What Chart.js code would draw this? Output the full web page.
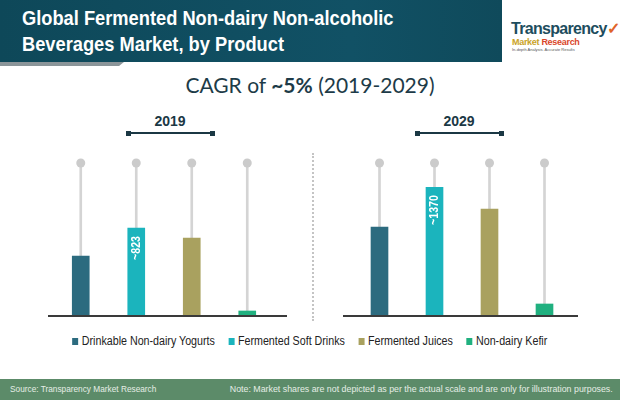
<!DOCTYPE html>
<html><head><meta charset="utf-8">
<script src="https://cdn.jsdelivr.net/npm/chart.js@4"></script>
<style>
html,body{margin:0;padding:0;}
body{width:620px;height:400px;position:relative;overflow:hidden;background:#fff;font-family:"Liberation Sans",sans-serif;}
.abs{position:absolute;}
#banner{left:0;top:0;width:502px;height:62px;background:linear-gradient(90deg,#0e4859 0%,#115165 70%,#0f4a5b 100%);}
#banner .t{position:absolute;left:22px;color:#fff;font-weight:bold;font-size:21px;white-space:nowrap;transform:scaleX(0.87);transform-origin:0 0;}
#stripe{left:0;top:62px;width:124px;height:4px;background:#8b9599;clip-path:polygon(0 0,100% 0,96% 100%,0 100%);}
#logo1{left:511px;top:19px;font-weight:bold;font-size:16px;color:#1d4d5e;letter-spacing:-0.7px;white-space:nowrap;}
#logo2{left:512px;top:37px;font-weight:bold;font-size:9px;letter-spacing:-0.3px;white-space:nowrap;}
#logo3{left:512px;top:47px;font-size:4px;color:#555;white-space:nowrap;}
#cagr{left:0;width:620px;top:72px;text-align:center;font-family:Lato,sans-serif;font-size:21px;color:#1d3b48;}
.yr{font-weight:bold;font-size:14px;color:#1b3844;text-align:center;width:100px;}
.yl{height:2px;background:#1b3844;}
.sq{width:5px;height:5px;background:#1b3844;}
#div{left:312px;top:153px;width:0;height:168px;border-left:2px dotted #c4c4c4;}
.base{height:1.5px;background:#3a3a3a;top:315px;}
#legend{left:0;width:620px;top:334px;font-size:12.5px;color:#222;text-align:center;white-space:nowrap;transform:scaleX(0.855);transform-origin:309px 0;}
#legend span.i{display:inline-block;margin:0 8px;}
#legend span.b{display:inline-block;width:7px;height:7px;margin-right:4px;vertical-align:0px;}
#footer{left:0;top:379px;width:620px;height:21px;background:#5c8b69;color:#e6eee6;font-size:9px;}
#footer .s{position:absolute;left:10px;top:5px;transform:scaleX(0.92);transform-origin:0 0;}
#footer .n{position:absolute;right:7px;top:5px;transform:scaleX(0.98);transform-origin:100% 0;}
</style></head>
<body>
<div id="banner" class="abs"><div class="t" style="top:6px">Global Fermented Non-dairy Non-alcoholic</div><div class="t" style="top:32px">Beverages Market, by Product</div></div>
<div id="stripe" class="abs"></div>
<div id="logo1" class="abs">Transparency<span style="color:#e0632a">✓</span></div>
<div id="logo2" class="abs"><span style="color:#c9a227">Market </span><span style="color:#d9462a">Research</span></div>
<div id="logo3" class="abs">In-depth Analysis. Accurate Results</div>
<div id="cagr" class="abs">CAGR of <b>~5%</b> (2019-2029)</div>

<div class="abs yr" style="left:120px;top:113px">2019</div>
<div class="abs yl" style="left:128px;top:132px;width:85px"></div>
<div class="abs sq" style="left:126px;top:130.5px"></div>
<div class="abs sq" style="left:210px;top:130.5px"></div>

<div class="abs yr" style="left:409px;top:113px">2029</div>
<div class="abs yl" style="left:417px;top:132px;width:85px"></div>
<div class="abs sq" style="left:415px;top:130.5px"></div>
<div class="abs sq" style="left:499px;top:130.5px"></div>

<div id="div" class="abs"></div>
<div class="abs base" style="left:48px;width:239px"></div>
<div class="abs base" style="left:343px;width:235px"></div>

<div class="abs" style="left:53px;top:155px;width:222px;height:160px"><canvas id="c1"></canvas></div>
<div class="abs" style="left:352px;top:155px;width:220px;height:160px"><canvas id="c2"></canvas></div>

<div id="legend" class="abs"></div>
<div id="footer" class="abs"><span class="s">Source: Transparency Market Research</span><span class="n">Note: Market shares are not depicted as per the actual scale and are only for illustration purposes.</span></div>

<script>
// ---- data ----
const categories = ['Drinkable Non-dairy Yogurts', 'Fermented Soft Drinks', 'Fermented Juices', 'Non-dairy Kefir'];
const values2019 = [558, 823, 728, 38];
const values2029 = [944, 1370, 1137, 118];
const labels2019 = [null, '~823', null, null];
const labels2029 = [null, '~1370', null, null];
const axisMax2019 = 1440;
const axisMax2029 = 1630;
const colors = ['#2c6b7f', '#1bb4bd', '#a9a15f', '#20b07f'];

// legend
const lg = document.getElementById('legend');
categories.forEach((c, i) => {
  const s = document.createElement('span'); s.className = 'i';
  s.innerHTML = '<span class="b" style="background:' + colors[i] + '"></span>' + c;
  lg.appendChild(s);
});

const labelPlugin = {
  id: 'vlabels',
  afterDatasetsDraw(chart, args, opts) {
    const meta = chart.getDatasetMeta(1);
    const ctx = chart.ctx;
    opts.labels.forEach((t, i) => {
      if (!t) return;
      const el = meta.data[i];
      ctx.save();
      ctx.translate(el.x + 0.5, el.y + 8);
      ctx.rotate(-Math.PI / 2);
      ctx.scale(0.88, 1);
      ctx.fillStyle = '#ffffff';
      ctx.font = 'bold 12px "Liberation Sans", sans-serif';
      ctx.textAlign = 'right';
      ctx.textBaseline = 'middle';
      ctx.fillText(t, 0, 0);
      ctx.restore();
    });
  }
};

function make(id, vals, labs, max) {
  new Chart(document.getElementById(id), {
    data: {
      labels: categories,
      datasets: [
        { type: 'bar', data: vals.map(v => [v, max]), backgroundColor: '#d4d4d4', barThickness: 2, grouped: false, order: 3 },
        { type: 'bar', data: vals, backgroundColor: colors, barThickness: 17, grouped: false, order: 2 },
        { type: 'line', data: vals.map(() => max), showLine: false, pointRadius: 4.5, pointHoverRadius: 4.5,
          pointBackgroundColor: '#cbcbcb', pointBorderWidth: 0, clip: false, order: 1 }
      ]
    },
    options: {
      responsive: true, maintainAspectRatio: false, animation: false,
      layout: { autoPadding: false, padding: { top: 8, bottom: 0, left: 0, right: 0 } },
      scales: {
        x: { display: false, offset: true, grid: { display: false } },
        y: { display: false, min: 0, max: max }
      },
      plugins: { legend: { display: false }, tooltip: { enabled: false }, vlabels: { labels: labs } }
    },
    plugins: [labelPlugin]
  });
}
make('c1', values2019, labels2019, axisMax2019);
make('c2', values2029, labels2029, axisMax2029);
</script>
</body></html>
